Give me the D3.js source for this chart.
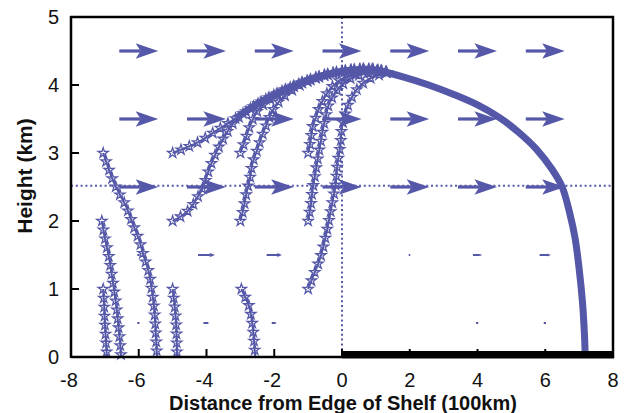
<!DOCTYPE html>
<html>
<head>
<meta charset="utf-8">
<script src="https://cdn.jsdelivr.net/npm/d3@7"></script>
<style>
  html, body { margin: 0; padding: 0; background: #fff; }
  text { font-family: "Liberation Sans", Arial, sans-serif; }
</style>
</head>
<body>
<div id="chart"></div>
<script>
// quiver grid (wind field)
const quiverX = [-6, -4, -2, 0, 2, 4, 6];
const quiverY = [0.5, 1.5, 2.5, 3.5, 4.5];
const quiverU = [
  [0.09, 0.18, 0.15, 0, 0, 0.09, 0.09],
  [0.09, 0.5, 0.45, 0.02, 0.06, 0.27, 0.33],
  [1.15, 1.15, 1.15, 1.15, 1.15, 1.15, 1.15],
  [1.15, 1.15, 1.15, 1.15, 1.15, 1.15, 1.15],
  [1.15, 1.15, 1.15, 1.15, 1.15, 1.15, 1.15]
];

// particles that fall to the ground
const fallingTracks = [
  [[-7.05, 3.0], [-6.9, 2.78], [-6.73, 2.56], [-6.55, 2.38], [-6.37, 2.21], [-6.18, 1.96], [-5.99, 1.72], [-5.85, 1.48], [-5.7, 1.24], [-5.62, 1.0], [-5.55, 0.74], [-5.5, 0.37], [-5.46, 0]],
  [[-7.09, 2.0], [-7.0, 1.75], [-6.88, 1.47], [-6.8, 1.22], [-6.73, 0.99], [-6.66, 0.74], [-6.61, 0.5], [-6.56, 0.25], [-6.52, 0]],
  [[-7.05, 1.0], [-7.02, 0.75], [-7.0, 0.5], [-6.97, 0.25], [-6.94, 0]],
  [[-5.0, 1.0], [-4.94, 0.75], [-4.9, 0.5], [-4.88, 0.25], [-4.87, 0]],
  [[-2.97, 1.0], [-2.85, 0.87], [-2.74, 0.74], [-2.65, 0.5], [-2.6, 0.25], [-2.56, 0]]
];

// particles lifted up, before they join the common path
const risingTracks = [
  [[-5.0, 3.0], [-4.6, 3.08], [-4.2, 3.17], [-3.8, 3.3], [-3.42, 3.42], [-3.1, 3.52]],
  [[-5.0, 2.0], [-4.75, 2.07], [-4.49, 2.18], [-4.25, 2.36], [-4.1, 2.5], [-3.95, 2.72], [-3.81, 2.9], [-3.6, 3.12], [-3.4, 3.3], [-3.1, 3.5]],
  [[-3.0, 3.0], [-2.85, 3.2], [-2.73, 3.38], [-2.52, 3.6], [-2.3, 3.72], [-1.9, 3.86]],
  [[-3.0, 2.0], [-2.9, 2.2], [-2.82, 2.41], [-2.72, 2.62], [-2.64, 2.85], [-2.5, 3.05], [-2.37, 3.24], [-2.2, 3.45], [-2.05, 3.62], [-1.8, 3.79], [-1.3, 3.98]],
  [[-1.0, 3.0], [-0.92, 3.2], [-0.87, 3.38], [-0.75, 3.55], [-0.66, 3.68], [-0.5, 3.83], [-0.37, 3.93], [-0.15, 4.04], [0.0, 4.09], [0.5, 4.18]],
  [[-1.0, 2.0], [-0.93, 2.2], [-0.87, 2.45], [-0.78, 2.72], [-0.72, 2.9], [-0.62, 3.18], [-0.55, 3.38], [-0.45, 3.6], [-0.37, 3.74], [-0.2, 3.88], [-0.07, 3.97], [0.31, 4.11], [0.8, 4.18], [1.1, 4.2]],
  [[-1.0, 1.0], [-0.8, 1.25], [-0.66, 1.43], [-0.55, 1.62], [-0.46, 1.82], [-0.38, 2.02], [-0.31, 2.21], [-0.2, 2.5], [-0.13, 2.85], [-0.05, 3.1], [0.0, 3.38], [0.1, 3.58], [0.21, 3.74], [0.5, 3.97], [0.88, 4.11], [1.3, 4.16], [1.8, 4.12]]
];

// the shared path over the top and down to the far side
const mainTrack = [
  [-3.1, 3.52], [-2.5, 3.72], [-1.9, 3.88], [-1.3, 4.01], [-0.8, 4.1], [-0.3, 4.17], [0.3, 4.22],
  [0.8, 4.23], [1.1, 4.21], [1.8, 4.12], [2.56, 4.0], [3.3, 3.86], [4.03, 3.7], [4.65, 3.52],
  [5.2, 3.31], [5.75, 3.05], [6.2, 2.76], [6.5, 2.5], [6.72, 2.12], [6.88, 1.75], [7.0, 1.3],
  [7.1, 0.8], [7.16, 0.3], [7.18, 0]
];

const xTicks = [-8, -6, -4, -2, 0, 2, 4, 6, 8];
const yTicks = [0, 1, 2, 3, 4, 5];
const refHeight = 2.52;
const refDistance = 0;
const shelfStart = 0;
const starLimit = 1.35;

const W = 633, H = 413;
const color = "#5558a8";

const svg = d3.select("#chart").append("svg")
  .attr("width", W).attr("height", H)
  .attr("viewBox", `0 0 ${W} ${H}`);

const x = d3.scaleLinear().domain([-8, 8]).range([71, 613]);
const y = d3.scaleLinear().domain([0, 5]).range([357, 17]);

// quiver arrows
const arrows = svg.append("g");
quiverY.forEach((qy, r) => {
  quiverX.forEach((qx, c) => {
    const L = x(quiverU[r][c]) - x(0);
    if (L < 1) return;
    const cx = x(qx), cy = y(qy);
    const tail = cx - L / 2, tip = cx + L / 2;
    const big = L > 25;
    const hl = L * (big ? 0.58 : 0.32);
    const hw = L * (big ? 0.4 : 0.28);
    const notch = hl * 0.22;
    arrows.append("line")
      .attr("x1", tail).attr("y1", cy)
      .attr("x2", tip - hl + notch).attr("y2", cy)
      .attr("stroke", color).attr("stroke-width", big ? 3.2 : 2);
    if (L > 5) {
      arrows.append("path")
        .attr("d", `M${tip},${cy} L${tip - hl},${cy - hw / 2} L${tip - hl + notch},${cy} L${tip - hl},${cy + hw / 2} Z`)
        .attr("fill", color);
    }
  });
});

// dotted reference lines
svg.append("line")
  .attr("x1", x(-8)).attr("x2", x(8))
  .attr("y1", y(refHeight)).attr("y2", y(refHeight))
  .attr("stroke", color).attr("stroke-width", 2)
  .attr("stroke-dasharray", "2,2.8");
svg.append("line")
  .attr("x1", x(refDistance)).attr("x2", x(refDistance))
  .attr("y1", y(5)).attr("y2", y(0))
  .attr("stroke", color).attr("stroke-width", 2)
  .attr("stroke-dasharray", "2,2.8");

const line = d3.line()
  .x(d => x(d[0])).y(d => y(d[1]))
  .curve(d3.curveCatmullRom.alpha(0.5));

const star = d3.symbol().type(d3.symbolStar).size(32)();
const tracks = svg.append("g");
const starsG = svg.append("g");

function drawTrack(pts, width, withStars) {
  const p = tracks.append("path")
    .attr("d", line(pts))
    .attr("fill", "none")
    .attr("stroke", color)
    .attr("stroke-width", width)
    .attr("stroke-linejoin", "round");
  if (!withStars) return;
  const node = p.node();
  const total = node.getTotalLength();
  const step = 9;
  for (let l = 0; l <= total + 0.1; l += step) {
    const pt = node.getPointAtLength(Math.min(l, total));
    if (x.invert(pt.x) > starLimit) break;
    starsG.append("path")
      .attr("d", star)
      .attr("transform", `translate(${pt.x},${pt.y})`)
      .attr("fill", "none")
      .attr("stroke", color)
      .attr("stroke-width", 1.3);
  }
}

// thick common path
drawTrack(mainTrack, 7, false);

fallingTracks.forEach(t => drawTrack(t, 2, true));
risingTracks.forEach(t => {
  const last = t[t.length - 1];
  const full = t.concat(mainTrack.filter(p => p[0] > last[0] + 0.05));
  drawTrack(full, 2, true);
});

// frame
const frame = svg.append("g").attr("stroke", "#000").attr("fill", "none");
frame.append("line").attr("x1", x(-8)).attr("x2", x(-8)).attr("y1", y(5) - 1).attr("y2", y(0) + 1).attr("stroke-width", 2.5);
frame.append("line").attr("x1", x(8)).attr("x2", x(8)).attr("y1", y(5) - 1).attr("y2", y(0) + 1).attr("stroke-width", 2.5);
frame.append("line").attr("x1", x(-8) - 1).attr("x2", x(8) + 1).attr("y1", y(5)).attr("y2", y(5)).attr("stroke-width", 2.5);
frame.append("line").attr("x1", x(-8)).attr("x2", x(shelfStart)).attr("y1", y(0)).attr("y2", y(0)).attr("stroke-width", 2.5);
// shelf bar
svg.append("rect")
  .attr("x", x(shelfStart)).attr("y", y(0) - 6)
  .attr("width", x(8) - x(shelfStart) + 1).attr("height", 7.5)
  .attr("fill", "#000");

// ticks inward
xTicks.slice(1, -1).forEach(t => {
  frame.append("line").attr("x1", x(t)).attr("x2", x(t))
    .attr("y1", y(0)).attr("y2", y(0) - 8).attr("stroke-width", 2);
});
yTicks.slice(1, -1).forEach(t => {
  frame.append("line").attr("x1", x(-8)).attr("x2", x(-8) + 8)
    .attr("y1", y(t)).attr("y2", y(t)).attr("stroke-width", 2);
});

// tick labels
const labels = svg.append("g").attr("fill", "#111").attr("font-size", 20);
xTicks.forEach(t => {
  labels.append("text")
    .attr("x", x(t) - (t < 0 ? 2 : 0)).attr("y", 387)
    .attr("text-anchor", "middle")
    .text(t);
});
yTicks.forEach(t => {
  labels.append("text")
    .attr("x", 59).attr("y", y(t) + 7)
    .attr("text-anchor", "end")
    .text(t);
});

// axis titles
svg.append("text")
  .attr("x", 343).attr("y", 410)
  .attr("text-anchor", "middle")
  .attr("font-size", 20).attr("font-weight", "bold").attr("fill", "#111")
  .text("Distance from Edge of Shelf (100km)");
svg.append("text")
  .attr("transform", "translate(32,176) rotate(-90)")
  .attr("text-anchor", "middle")
  .attr("font-size", 21).attr("font-weight", "bold").attr("fill", "#111")
  .text("Height (km)");
</script>
</body>
</html>
